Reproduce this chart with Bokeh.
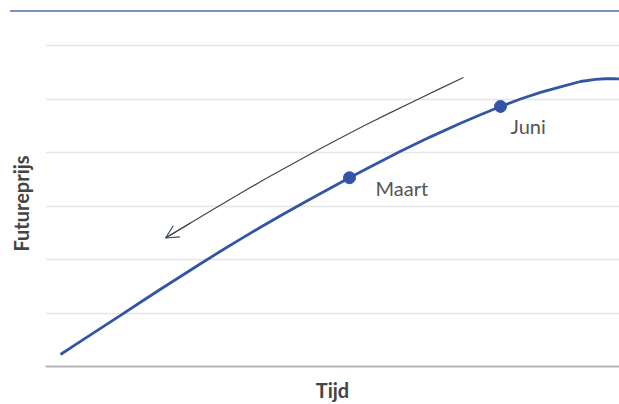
from bokeh.plotting import figure
from bokeh.layouts import column
from bokeh.models import (Div, Range1d, FixedTicker, Arrow, OpenHead, Grid,
                          ColumnDataSource, LinearAxis)
from bokeh.embed import file_html
from bokeh.resources import INLINE
from bokeh.core.properties import value

# Futures price curve over time (arbitrary units)
tijd = [2.61, 6.10, 9.58, 13.07, 16.55, 20.03, 23.52, 27.00, 30.49, 33.97,
        37.46, 40.94, 44.43, 47.91, 52.96, 56.62, 61.85, 67.07, 72.30, 75.78,
        79.27, 82.75, 86.24, 89.72, 93.21, 95.82, 97.56, 98.78, 100.0]
prijs = [0.225, 0.469, 0.714, 0.958, 1.202, 1.446, 1.685, 1.923, 2.156, 2.383,
         2.605, 2.821, 3.033, 3.239, 3.532, 3.739, 4.026, 4.297, 4.550, 4.712,
         4.866, 5.005, 5.129, 5.234, 5.333, 5.371, 5.384, 5.386, 5.380]

# Highlighted contract months on the curve
maand_labels = ["Maart", "Juni"]
maand_tijd = [52.96, 79.27]
maand_prijs = [3.532, 4.866]

# Curved arrow showing the roll-down direction
pijl_x = [72.82, 68.82, 64.46, 60.10, 55.75, 51.39, 47.04, 42.68, 38.33,
          33.97, 29.62, 25.26, 20.91]
pijl_y = [5.408, 5.204, 4.978, 4.751, 4.518, 4.276, 4.028, 3.771, 3.512,
          3.241, 2.965, 2.685, 2.404]

grid_ticks = [1, 2, 3, 4, 5, 6]

BLUE = "#3355a8"
ARROW = "#3d4850"
FONT = "Lato"

top_rule = Div(text="", width=609, height=2,
               styles={"background-color": "#7b93c8"},
               margin=(10, 0, 0, 10))

p = figure(width=619, height=392, output_backend="svg", toolbar_location=None,
           x_range=Range1d(0, 100), y_range=Range1d(0, 6.1),
           x_axis_type=None, y_axis_type=None,
           min_border_left=45, min_border_right=0, min_border_top=28,
           min_border_bottom=0)
p.outline_line_color = None
p.background_fill_color = "white"
p.border_fill_color = "white"

xaxis = LinearAxis(ticker=FixedTicker(ticks=[]), axis_label="Tijd")
yaxis = LinearAxis(ticker=FixedTicker(ticks=[]), axis_label="Futureprijs")
for ax in (xaxis, yaxis):
    ax.major_tick_line_color = None
    ax.minor_tick_line_color = None
    ax.major_tick_in = 0
    ax.major_tick_out = 0
    ax.major_label_standoff = 0
    ax.axis_label_text_font = FONT
    ax.axis_label_text_font_style = "bold"
    ax.axis_label_text_font_size = "20px"
    ax.axis_label_text_color = "#444444"
xaxis.axis_line_color = "#b5b5b5"
xaxis.axis_line_width = 2
xaxis.axis_label_standoff = 11
yaxis.axis_line_color = None
yaxis.axis_label_standoff = 13
p.add_layout(xaxis, "below")
p.add_layout(yaxis, "left")

p.add_layout(Grid(dimension=1, ticker=FixedTicker(ticks=grid_ticks),
                  grid_line_color="#e6e6e6", grid_line_width=1.5))

p.line(tijd, prijs, line_color=BLUE, line_width=2.8)

p.line(pijl_x, pijl_y, line_color=ARROW, line_width=1.2)
p.add_layout(Arrow(end=OpenHead(size=13, line_color=ARROW, line_width=1.2),
                   x_start=pijl_x[-2], y_start=pijl_y[-2],
                   x_end=pijl_x[-1], y_end=pijl_y[-1],
                   line_color=ARROW, line_width=1.2))

src = ColumnDataSource(dict(x=maand_tijd, y=maand_prijs, label=maand_labels,
                            dx=[26, 10], dy=[10, 20]))
p.scatter("x", "y", source=src, size=12, fill_color=BLUE, line_color=BLUE)
p.text("x", "y", text="label", source=src, x_offset="dx", y_offset="dy",
       text_font=value(FONT), text_font_size="20px", text_color="#555555",
       text_align="left", text_baseline="alphabetic")

layout = column(top_rule, p, spacing=0)
open("out.html", "w").write(file_html(layout, INLINE))
